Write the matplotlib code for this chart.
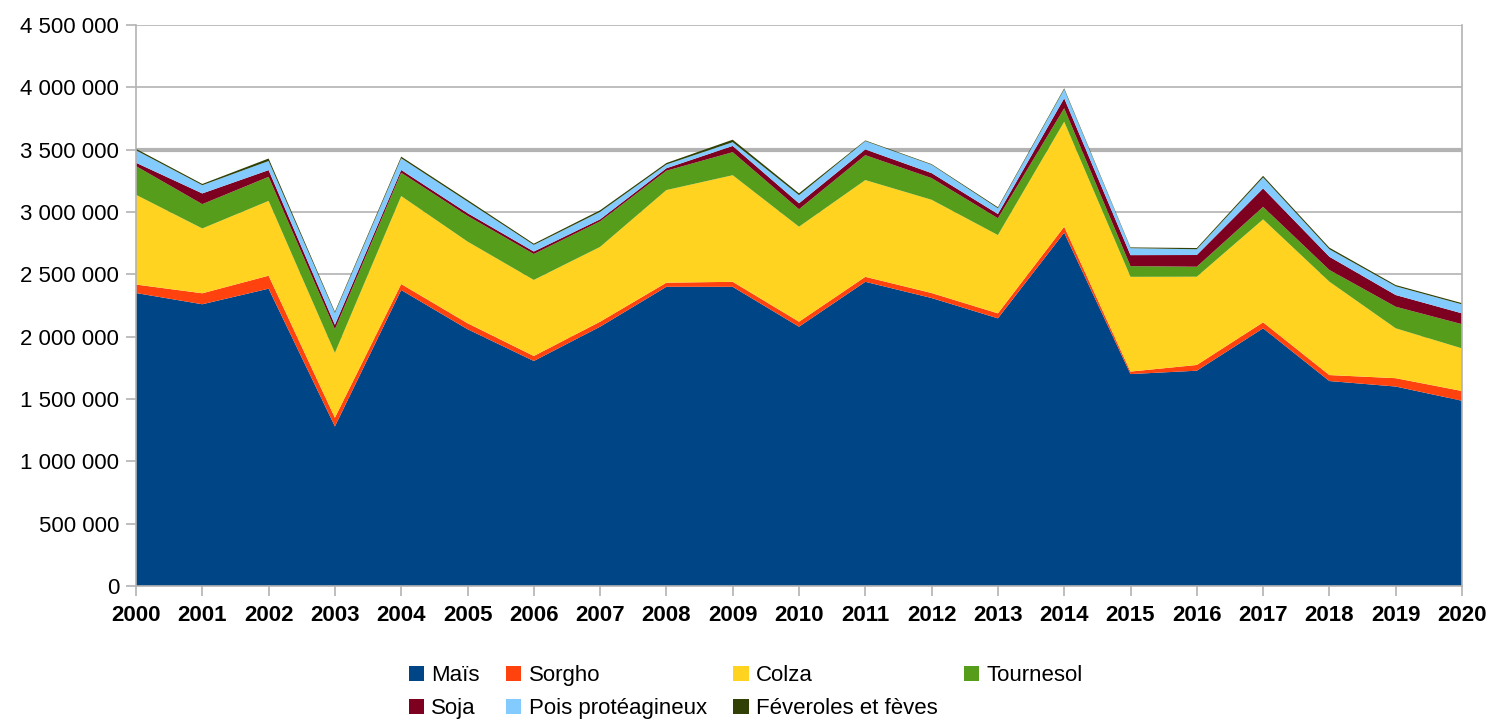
import matplotlib
matplotlib.use("Agg")
import matplotlib.pyplot as plt
from matplotlib.patches import Patch
from matplotlib.ticker import FuncFormatter

plt.rcParams["font.family"] = ["Liberation Sans", "DejaVu Sans"]

# ==============================
# DATA (surfaces, stacked)
# ==============================
years = list(range(2000, 2021))

mais = [2350000, 2260000, 2385000, 1280000, 2374000, 2060000, 1805000, 2080000, 2400000, 2400000,
        2080000, 2440000, 2310000, 2147000, 2834000, 1700000, 1727000, 2067000, 1644000, 1600000, 1486000]
sorgho = [68000, 88000, 104000, 70000, 48000, 48000, 40000, 40000, 33000, 40000,
          40000, 40000, 40000, 40000, 48000, 20000, 46000, 48000, 48000, 67000, 78000]
colza = [720000, 520000, 600000, 520000, 706000, 655000, 610000, 600000, 743000, 855000,
         762000, 776000, 748000, 628000, 842000, 760000, 708000, 826000, 749000, 400000, 342000]
tournesol = [230000, 195000, 193000, 190000, 187000, 206000, 208000, 205000, 155000, 185000,
             140000, 200000, 174000, 135000, 108000, 86000, 80000, 100000, 94000, 173000, 194000]
soja = [27000, 86000, 54000, 35000, 22000, 22000, 20000, 16000, 20000, 50000,
        48000, 46000, 40000, 34000, 80000, 88000, 94000, 148000, 106000, 94000, 87000]
pois = [100000, 66000, 73000, 95000, 94000, 93000, 53000, 60000, 30000, 30000,
        65000, 67000, 67000, 46000, 72000, 56000, 46000, 88000, 60000, 70000, 72000]
feveroles = [12000, 10000, 20000, 10000, 13000, 13000, 10000, 13000, 12000, 20000,
             15000, 5000, 5000, 8000, 8000, 6000, 10000, 13000, 13000, 10000, 10000]

labels = ["Maïs", "Sorgho", "Colza", "Tournesol", "Soja", "Pois protéagineux", "Féveroles et fèves"]
colors = ["#004586", "#ff420e", "#ffd320", "#579d1c", "#7e0021", "#83caff", "#314004"]

# ==============================
# FIGURE
# ==============================
fig = plt.figure(figsize=(14.88, 7.21), dpi=100)
ax = fig.add_axes([136 / 1488, 1 - 586 / 721, (1462 - 136) / 1488, (586 - 25) / 721])

ax.stackplot(years, mais, sorgho, colza, tournesol, soja, pois, feveroles,
             colors=colors, labels=labels, linewidth=0, zorder=2)

ax.set_xlim(2000, 2020)
ax.set_ylim(0, 4500000)
ax.set_xticks(years)
ax.set_yticks(range(0, 4500001, 500000))
ax.yaxis.set_major_formatter(FuncFormatter(lambda v, p: f"{int(v):,}".replace(",", " ")))

ax.grid(axis="y", color="#b3b3b3", linewidth=1.2, zorder=1)
ax.set_axisbelow(True)
ax.get_ygridlines()[7].set_linewidth(3)

for side in ["left", "right", "bottom"]:
    ax.spines[side].set_color("#b3b3b3")
    ax.spines[side].set_linewidth(1.2)
ax.spines["top"].set_visible(False)

ax.tick_params(axis="y", length=7, width=1.2, color="#b3b3b3", labelsize=16, pad=5)
ax.tick_params(axis="x", length=7, width=1.2, color="#b3b3b3", labelsize=16, pad=7)
for t in ax.get_xticklabels():
    t.set_fontweight("bold")

# legend: 4 columns, filled row by row
order = [0, 4, 1, 5, 2, 6, 3]
handles = [Patch(facecolor=colors[i], edgecolor="none") for i in order]
fig.legend(handles, [labels[i] for i in order], ncol=4, loc="upper left",
           bbox_to_anchor=(409 / 1488, 1 - 665 / 721), frameon=False,
           fontsize=16, handlelength=0.68, handleheight=0.68, handletextpad=0.32,
           columnspacing=1.2, labelspacing=0.55, borderaxespad=0, borderpad=0)

fig.savefig("out.png", dpi=100)
